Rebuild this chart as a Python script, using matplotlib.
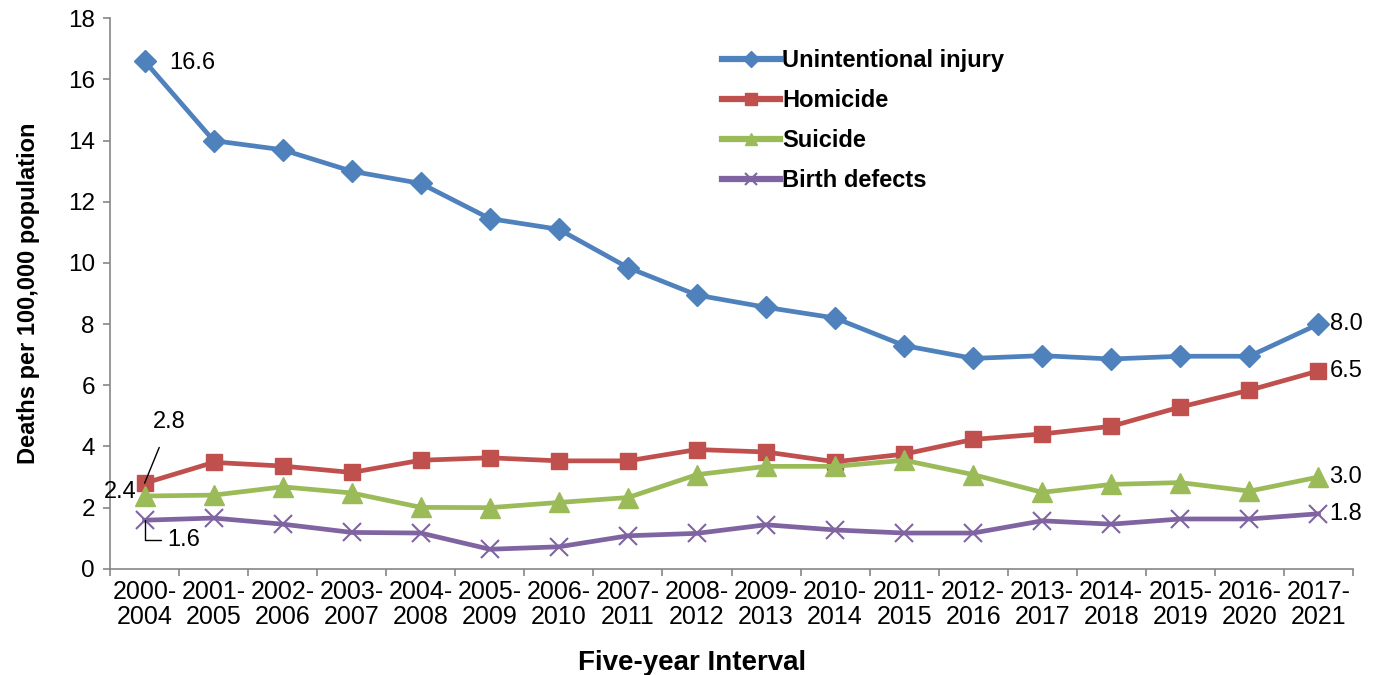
import matplotlib
matplotlib.use("Agg")
import matplotlib.pyplot as plt
from matplotlib.lines import Line2D

plt.rcParams['font.family'] = ['Liberation Sans', 'DejaVu Sans']

# five-year intervals on the x axis
periods = ['2000-\n2004', '2001-\n2005', '2002-\n2006', '2003-\n2007', '2004-\n2008',
           '2005-\n2009', '2006-\n2010', '2007-\n2011', '2008-\n2012', '2009-\n2013',
           '2010-\n2014', '2011-\n2015', '2012-\n2016', '2013-\n2017', '2014-\n2018',
           '2015-\n2019', '2016-\n2020', '2017-\n2021']

# deaths per 100,000 population
unintentional = [16.6, 14.0, 13.7, 13.0, 12.6, 11.45, 11.1, 9.85, 8.95, 8.55,
                 8.2, 7.3, 6.88, 6.97, 6.86, 6.95, 6.95, 8.0]
homicide = [2.8, 3.48, 3.36, 3.15, 3.55, 3.63, 3.53, 3.53, 3.9, 3.82,
            3.5, 3.75, 4.23, 4.41, 4.66, 5.29, 5.84, 6.47]
suicide = [2.38, 2.41, 2.68, 2.48, 2.01, 2.0, 2.17, 2.33, 3.08, 3.35,
           3.35, 3.55, 3.08, 2.5, 2.76, 2.82, 2.54, 3.0]
birth_defects = [1.59, 1.66, 1.46, 1.19, 1.17, 0.64, 0.72, 1.08, 1.16, 1.44,
                 1.27, 1.17, 1.17, 1.57, 1.46, 1.63, 1.63, 1.8]

names = ['Unintentional injury', 'Homicide', 'Suicide', 'Birth defects']
colors = ['#4F81BD', '#C0504D', '#9BBB59', '#8064A2']

fig = plt.figure(figsize=(13.81, 6.75), dpi=100)
ax = fig.add_axes([0.0797, 0.1573, 0.9000, 0.8156])

x = list(range(len(periods)))
ax.plot(x, unintentional, color=colors[0], lw=3.4, marker='D', ms=11.5, zorder=4)
ax.plot(x, homicide, color=colors[1], lw=3.4, marker='s', ms=12, zorder=4)
ax.plot(x, suicide, color=colors[2], lw=3.4, marker='^', ms=14, zorder=4)
ax.plot(x, birth_defects, color=colors[3], lw=3.4, marker='x', ms=13, mew=1.5, zorder=4)

ax.set_xlim(-0.5, len(periods) - 0.5)
ax.set_ylim(0, 18)
ax.set_yticks(range(0, 19, 2))
ax.set_xticks(x)
ax.set_xticklabels(periods, fontsize=18, linespacing=1.05)
ax.set_xticks([i - 0.5 for i in range(len(periods) + 1)], minor=True)
ax.tick_params(axis='x', which='major', length=0, pad=8)
ax.tick_params(axis='x', which='minor', length=5, width=1.2, color='#868686', direction='out')
ax.tick_params(axis='y', length=5, width=1.2, color='#868686', labelsize=17.5, pad=6)

for s in ['top', 'right']:
    ax.spines[s].set_visible(False)
for s in ['left', 'bottom']:
    ax.spines[s].set_color('#868686')
    ax.spines[s].set_linewidth(1.2)

ax.set_ylabel('Deaths per 100,000 population', fontsize=17, fontweight='bold', labelpad=20)
ax.set_xlabel('Five-year Interval', fontsize=20, fontweight='bold')
ax.xaxis.set_label_coords(0.468, -0.148)

# data labels
lab = dict(fontsize=17, va='center', zorder=6)
ax.annotate(f"{unintentional[0]:.1f}", (0, unintentional[0]), xytext=(18, -1),
            textcoords='offset points', ha='left', **lab)
last = len(periods) - 1
for series in [unintentional, homicide, suicide, birth_defects]:
    ax.annotate(f"{series[last]:.1f}", (last, series[last]), xytext=(8, 0),
                textcoords='offset points', ha='left', **lab)
ax.annotate(f"{homicide[0]:.1f}", (0, homicide[0]), xytext=(18, 44),
            textcoords='offset points', ha='center',
            arrowprops=dict(arrowstyle='-', color='black', lw=1, shrinkA=9, shrinkB=0), **lab)
ax.annotate(f"{suicide[0]:.1f}", (0, suicide[0]), xytext=(-6, 3),
            textcoords='offset points', ha='right', **lab)
ax.annotate(f"{birth_defects[0]:.1f}", (0, birth_defects[0]), xytext=(16, -14),
            textcoords='offset points', ha='left',
            arrowprops=dict(arrowstyle='-', color='black', lw=1, shrinkA=2, shrinkB=0,
                            connectionstyle='angle,angleA=0,angleB=90,rad=0'), **lab)

handles = [
    Line2D([], [], color=colors[0], lw=4.5, marker='D', ms=8),
    Line2D([], [], color=colors[1], lw=4.5, marker='s', ms=9),
    Line2D([], [], color=colors[2], lw=4.5, marker='^', ms=9),
    Line2D([], [], color=colors[3], lw=4.5, marker='x', ms=9, mew=1.5),
]
leg = ax.legend(handles, names, loc='upper left', bbox_to_anchor=(722 / 1381, 1 - 49 / 675),
                bbox_transform=fig.transFigure, frameon=False, borderpad=0, borderaxespad=0,
                handlelength=2.45, handletextpad=0.1, labelspacing=0.72,
                prop={'size': 17, 'weight': 'bold'})

fig.savefig('out.png', dpi=100)
